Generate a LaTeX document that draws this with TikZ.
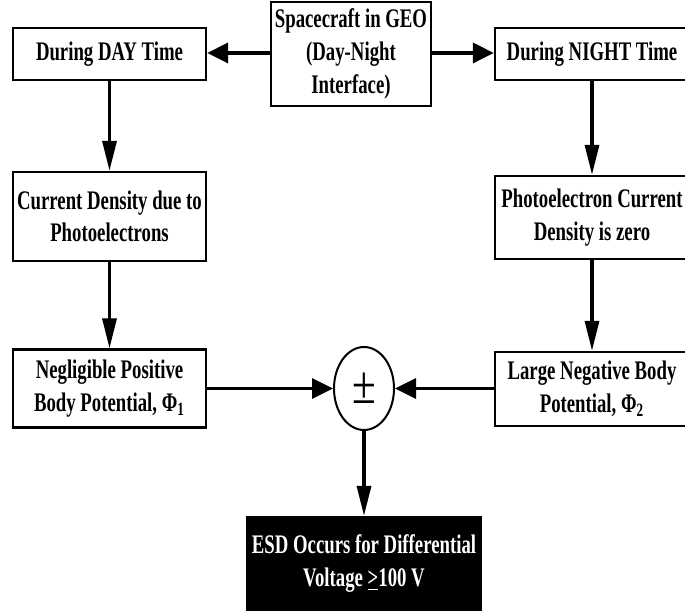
\documentclass[tikz,border=0pt]{standalone}
\usepackage{fontspec}
\setmainfont{Liberation Serif}[FakeStretch=0.7]
\newfontfamily\pmfont{Liberation Serif}[FakeStretch=0.8]
\usetikzlibrary{arrows.meta,shapes.geometric}
\begin{document}
\begin{tikzpicture}[x=0.5pt,y=-0.5pt,
  box/.style={draw, line width=1.15pt, rectangle, align=center, inner sep=0pt,
    font=\fontsize{13.4}{16.3}\selectfont\bfseries},
  varrow/.style={line width=1.65pt, -{Triangle[length=15pt,width=7pt]}},
  harrow/.style={line width=1.65pt, -{Triangle[length=10.5pt,width=10pt]}}]
\useasboundingbox (0,0) rectangle (685,613);
\clip (0,0) rectangle (685,613);
\node[box, minimum width=96.5pt, minimum height=26pt] (day) at (109.5,54) {During DAY Time};
\node[box, minimum width=80pt, minimum height=52pt] (top) at (351,54) {Spacecraft in GEO\\(Day-Night\\Interface)};
\node[box, minimum width=97pt, minimum height=26pt] (night) at (592,54) {During NIGHT Time};
\node[box, minimum width=96.5pt, minimum height=44.5pt] (cur) at (109.5,216.5) {Current Density due to\\Photoelectrons};
\node[box, minimum width=97pt, minimum height=41.5pt] (pho) at (592,217.5) {Photoelectron Current\\Density is zero};
\node[box, minimum width=96.5pt, minimum height=39pt] (neg) at (109.5,388.5) {Negligible Positive\\Body Potential, Φ\textsubscript{1}};
\node[box, minimum width=97pt, minimum height=37pt] (lar) at (592,389) {Large Negative Body\\Potential, Φ\textsubscript{2}};
\node[draw, ellipse, line width=1pt, inner sep=0pt, minimum width=30pt, minimum height=41.5pt,
  font=\fontsize{27}{27}\selectfont\pmfont] (pm) at (364,388.5) {±};
\node[box, fill=black, text=white, minimum width=117pt, minimum height=46.5pt] (esd) at (364,563.5)
  {ESD Occurs for Differential\\Voltage \underline{>}100 V};
\draw[harrow] (top.west |- 0,53) -- (day.east |- 0,53);
\draw[harrow] (top.east |- 0,53) -- (night.west |- 0,53);
\draw[varrow] (day.south) -- (cur.north);
\draw[varrow] (night.south) -- (pho.north);
\draw[varrow] (cur.south) -- (neg.north);
\draw[varrow] (pho.south) -- (lar.north);
\draw[harrow] (neg.east |- pm.west) -- (pm.west);
\draw[harrow] (lar.west |- pm.east) -- (pm.east);
\draw[varrow] (pm.south) -- (esd.north);
\end{tikzpicture}
\end{document}
